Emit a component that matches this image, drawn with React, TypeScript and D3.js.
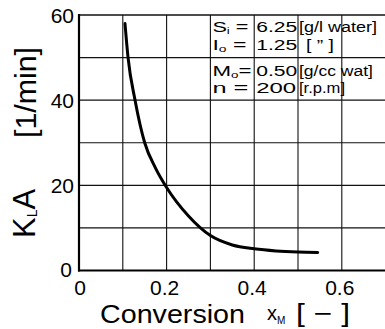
import * as d3 from "d3";

// K_L A curve
const conversion = [0.105, 0.112, 0.128, 0.15, 0.175, 0.2, 0.25, 0.3, 0.35, 0.4, 0.45, 0.5, 0.545];
const klaValues = [58, 50, 40, 30, 24, 19.5, 12.8, 8.2, 6.0, 5.1, 4.6, 4.35, 4.25];

const xTicks = [0, 0.2, 0.4, 0.6];
const yTicks = [0, 20, 40, 60];
const xGrid = [0.1, 0.2, 0.3, 0.4, 0.5, 0.6, 0.7];
const yGrid = [10, 20, 30, 40, 50, 60];

// condition table: label / value / unit
const condMain = ["S", "I", "M", "n"];
const condSub = ["i", "o", "o", ""];
const condEq = [" =", " =", "=", "  ="];
const condValues = ["6.25", "1.25", "0.50", "200"];
const condUnits = ["[g/l water]", "[ \u201d ]", "[g/cc wat]", "[r.p.m]"];

const W = 385;
const H = 329;
const FONT = "'Liberation Sans', Arial, sans-serif";

export default function App() {
  const x = d3.scaleLinear().domain([0, 0.7]).range([79, 385.6]);
  const y = d3.scaleLinear().domain([0, 60]).range([270.5, 15]);

  const line = d3
    .line<number>()
    .x((_, i) => x(conversion[i]))
    .y((d) => y(d))
    .curve(d3.curveMonotoneX);

  // baselines of the four table rows
  const rowY = [y(60) + 17, y(60) + 35, y(50) + 18, y(50) + 35];
  const labelLen = [36, 34, 39, 36];
  const unitLen = [78, 28, 74, 46];

  return (
    <svg
      width={W}
      height={H}
      viewBox={`0 0 ${W} ${H}`}
      style={{ position: "absolute", left: 0, top: 0, background: "#fff" }}
      fontFamily={FONT}
    >
      {/* grid */}
      {xGrid.map((t) => (
        <line key={"gx" + t} x1={x(t)} x2={x(t)} y1={y(60)} y2={y(0)} stroke="#111" strokeWidth={1.1} />
      ))}
      {yGrid.map((t) => (
        <line key={"gy" + t} x1={x(0)} x2={W} y1={y(t)} y2={y(t)} stroke="#111" strokeWidth={t === 60 ? 1.6 : 1.1} />
      ))}
      {/* axes */}
      <line x1={x(0)} x2={x(0)} y1={y(60) - 1} y2={y(0) + 1} stroke="#000" strokeWidth={2.2} />
      <line x1={x(0) - 1} x2={W} y1={y(0)} y2={y(0)} stroke="#000" strokeWidth={2.2} />

      {/* curve */}
      <path d={line(klaValues) ?? ""} fill="none" stroke="#000" strokeWidth={3} strokeLinecap="round" />

      {/* y tick labels */}
      {yTicks.map((t) => (
        <text
          key={"yt" + t}
          x={t === 0 ? 72 : 74}
          y={y(t) + (t === 0 ? 6 : 8)}
          textAnchor="end"
          fontSize={21}
          fill="#000"
        >
          {t}
        </text>
      ))}
      {/* x tick labels */}
      {xTicks.map((t) => (
        <text key={"xt" + t} x={x(t) + (t === 0 ? 1 : -2)} y={295} textAnchor="middle" fontSize={21} fill="#000">
          {t === 0 ? "0" : t.toFixed(1)}
        </text>
      ))}

      {/* condition table */}
      {condMain.map((m, i) => (
        <g key={"row" + i} fontSize={15} fill="#000">
          <text x={x(0.3) + 2} y={rowY[i]} textLength={labelLen[i]} lengthAdjust="spacingAndGlyphs">
            {m}
            {condSub[i] && (
              <tspan fontSize={9} dy={2}>
                {condSub[i]}
              </tspan>
            )}
            <tspan dy={condSub[i] ? -2 : 0}>{condEq[i]}</tspan>
          </text>
          <text x={x(0.4) + 2} y={rowY[i]} textLength={i === 3 ? 40 : 41} lengthAdjust="spacingAndGlyphs">
            {condValues[i]}
          </text>
          <text
            x={x(0.5) + (i === 1 ? 8 : 1)}
            y={rowY[i]}
            fontSize={14}
            textLength={unitLen[i]}
            lengthAdjust="spacingAndGlyphs"
          >
            {condUnits[i]}
          </text>
        </g>
      ))}

      {/* x axis label */}
      <text x={100} y={323} fontSize={25} fill="#000" textLength={145} lengthAdjust="spacingAndGlyphs">
        Conversion
      </text>
      <text x={267} y={320} fontSize={20} fill="#000">
        x
        <tspan fontSize={10} dy={4}>
          M
        </tspan>
      </text>
      <text x={296} y={322} fontSize={25} fill="#000" textLength={54} lengthAdjust="spacingAndGlyphs">
        [ − ]
      </text>

      {/* y axis label */}
      <text transform="translate(35,238) rotate(-90)" fontSize={31} fill="#000">
        K
        <tspan fontSize={14} dy={2}>
          L
        </tspan>
        <tspan dy={-2}>A</tspan>
      </text>
      <text
        transform="translate(36,138) rotate(-90)"
        fontSize={30}
        fill="#000"
        textLength={91}
        lengthAdjust="spacingAndGlyphs"
      >
        [1/min]
      </text>
    </svg>
  );
}
